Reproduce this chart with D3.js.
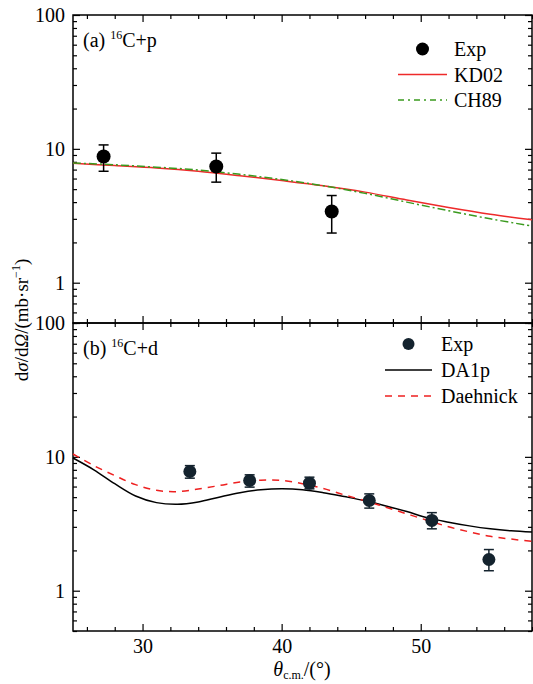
<!DOCTYPE html>
<html>
<head>
<meta charset="utf-8">
<script src="https://cdn.jsdelivr.net/npm/d3@7"></script>
<style>
  body { margin: 0; background: #fff; }
</style>
</head>
<body>
<svg id="chart" width="533" height="684"></svg>
<script>
// ---- data ----
const expPTheta = [27.2, 35.3, 43.6]
const expPVal = [8.76, 7.38, 3.40]
const expPLow = [6.8, 5.64, 2.35]
const expPHigh = [10.7, 9.29, 4.48]

const curvePTheta = [25, 28, 31, 34, 37, 40, 43, 46, 49, 52, 55, 58]
const kd02 = [7.8, 7.5, 7.2, 6.8, 6.3, 5.8, 5.3, 4.75, 4.15, 3.65, 3.25, 2.95]
const ch89 = [7.85, 7.6, 7.3, 6.95, 6.45, 5.9, 5.3, 4.65, 4.0, 3.45, 3.0, 2.65]

const expDTheta = [33.4, 37.7, 42.0, 46.3, 50.8, 54.9]
const expDVal = [7.77, 6.66, 6.36, 4.72, 3.35, 1.71]
const expDLow = [6.93, 5.94, 5.77, 4.14, 2.90, 1.41]
const expDHigh = [8.6, 7.34, 7.05, 5.29, 3.83, 2.03]

const curveDTheta = [25, 26.5, 28, 29.5, 31, 32.5, 34, 35.5, 37, 38.5, 40, 41.5, 43, 44.5, 46, 47.5, 49, 50.5, 52, 53.5, 55, 56.5, 58]
const da1p = [9.8, 8.0, 6.3, 5.1, 4.55, 4.42, 4.6, 5.0, 5.4, 5.67, 5.77, 5.68, 5.4, 5.05, 4.7, 4.3, 3.9, 3.5, 3.25, 3.05, 2.9, 2.8, 2.74]
const daehnick = [10.5, 8.6, 7.25, 6.2, 5.62, 5.5, 5.75, 6.1, 6.5, 6.7, 6.66, 6.3, 5.8, 5.2, 4.7, 4.2, 3.75, 3.35, 3.0, 2.75, 2.55, 2.43, 2.34]

const xTicks = [30, 40, 50]
const xMinor = d3.range(26, 59, 2).filter(d => d % 10 !== 0)
const yTicks = [1, 10, 100]
const yMinor = [0.5, 0.6, 0.7, 0.8, 0.9, 2, 3, 4, 5, 6, 7, 8, 9, 20, 30, 40, 50, 60, 70, 80, 90]

const FONT = 'Liberation Serif'

// ---- layout ----
const svg = d3.select('#chart')
const left = 73
const right = 532
const x = d3.scaleLinear().domain([25, 58]).range([left, right])

const panels = [
  { id: 'p', top: 15, bottom: 323, label: '(a) ', target: '+p' },
  { id: 'd', top: 323, bottom: 631, label: '(b) ', target: '+d' }
]
panels.forEach(p => {
  p.y = d3.scaleLog().domain([0.5, 100]).range([p.bottom, p.top])
})

function drawFrame (p, showX) {
  const g = svg.append('g').attr('class', 'frame-' + p.id)
  const h = p.bottom - p.top
  const w = right - left

  const mk = (axis, tx, ty, vals, len, labels) => {
    const a = g.append('g')
      .attr('transform', `translate(${tx},${ty})`)
      .call(axis.tickValues(vals).tickSizeInner(len).tickSizeOuter(0)
        .tickFormat(labels ? d3.format('d') : ''))
    a.attr('font-size', 20).attr('font-family', null)
    a.select('.domain').remove()
    a.selectAll('line').attr('stroke', '#000').attr('stroke-width', 1.2)
    a.selectAll('text').attr('fill', '#000')
    return a
  }
  // left axis with labels
  mk(d3.axisLeft(p.y), left, 0, yTicks, -7, true)
    .selectAll('text').attr('x', -8)
  mk(d3.axisLeft(p.y), left, 0, yMinor, -4, false)
  // right axis
  mk(d3.axisRight(p.y), right, 0, yTicks, -7, false)
  mk(d3.axisRight(p.y), right, 0, yMinor, -4, false)
  // bottom / top
  const bx = mk(d3.axisBottom(x), 0, p.bottom, xTicks, -7, showX)
  if (showX) bx.selectAll('text').attr('y', 8)
  mk(d3.axisBottom(x), 0, p.bottom, xMinor, -4, false)
  mk(d3.axisTop(x), 0, p.top, xTicks, -7, false)
  mk(d3.axisTop(x), 0, p.top, xMinor, -4, false)

  g.append('rect')
    .attr('x', left).attr('y', p.top)
    .attr('width', w).attr('height', h)
    .attr('fill', 'none').attr('stroke', '#000').attr('stroke-width', 1.5)

  const t = g.append('text').attr('x', 83).attr('y', p.top + 32).attr('font-size', 20)
  t.append('tspan').text(p.label)
  t.append('tspan').attr('font-size', 12).attr('dy', -8).text('16')
  t.append('tspan').attr('dy', 8).text('C' + p.target)
}

function drawLine (p, xs, ys, color, dash) {
  const line = d3.line()
    .x(d => x(d[0]))
    .y(d => p.y(d[1]))
    .curve(d3.curveCatmullRom)
  svg.append('path')
    .datum(xs.map((t, i) => [t, ys[i]]))
    .attr('d', line)
    .attr('fill', 'none')
    .attr('stroke', color)
    .attr('stroke-width', 1.5)
    .attr('stroke-dasharray', dash)
}

function drawPoints (p, xs, vals, lows, highs, color, r) {
  const g = svg.append('g')
  xs.forEach((t, i) => {
    const cx = x(t)
    g.append('line').attr('x1', cx).attr('x2', cx)
      .attr('y1', p.y(lows[i])).attr('y2', p.y(highs[i]))
      .attr('stroke', color).attr('stroke-width', 1.5)
    ;[lows[i], highs[i]].forEach(v => {
      g.append('line').attr('x1', cx - 5).attr('x2', cx + 5)
        .attr('y1', p.y(v)).attr('y2', p.y(v))
        .attr('stroke', color).attr('stroke-width', 1.5)
    })
    g.append('circle').attr('cx', cx).attr('cy', p.y(vals[i]))
      .attr('r', r).attr('fill', color)
  })
}

function drawLegend (items, lx0, lx1, tx, y0, step) {
  const g = svg.append('g').attr('class', 'legend')
  items.forEach((it, i) => {
    const cy = y0 + i * step
    if (it.type === 'dot') {
      g.append('circle').attr('cx', (lx0 + lx1) / 2).attr('cy', cy)
        .attr('r', it.r).attr('fill', it.color)
    } else {
      g.append('line').attr('x1', lx0).attr('x2', lx1)
        .attr('y1', cy).attr('y2', cy)
        .attr('stroke', it.color).attr('stroke-width', 1.5)
        .attr('stroke-dasharray', it.dash)
    }
    g.append('text').attr('x', tx).attr('y', cy + 7)
      .attr('font-size', 20).text(it.name)
  })
}

const pp = panels[0]
const pd = panels[1]

drawFrame(pp, false)
drawFrame(pd, true)

drawLine(pp, curvePTheta, kd02, '#ee2a2a', null)
drawLine(pp, curvePTheta, ch89, '#3a9a1e', '8,3,2,3')
drawPoints(pp, expPTheta, expPVal, expPLow, expPHigh, '#000', 7)

drawLine(pd, curveDTheta, da1p, '#000', null)
drawLine(pd, curveDTheta, daehnick, '#ee2020', '7,6')
drawPoints(pd, expDTheta, expDVal, expDLow, expDHigh, '#14232e', 6.5)

drawLegend([
  { type: 'dot', name: 'Exp', color: '#000', r: 6.5 },
  { type: 'line', name: 'KD02', color: '#ee2a2a' },
  { type: 'line', name: 'CH89', color: '#3a9a1e', dash: '6,4,2,4' }
], 398, 447, 454, 49, 25.5)

drawLegend([
  { type: 'dot', name: 'Exp', color: '#14232e', r: 6 },
  { type: 'line', name: 'DA1p', color: '#000' },
  { type: 'line', name: 'Daehnick', color: '#ee2020', dash: '7,6' }
], 385, 432, 441, 344, 26)

// axis titles
const yl = svg.append('text')
  .attr('transform', 'translate(28,320) rotate(-90)')
  .attr('text-anchor', 'middle')
  .attr('font-size', 19)
yl.append('tspan').text('d')
yl.append('tspan').attr('font-style', 'italic').text('σ')
yl.append('tspan').text('/d')
yl.append('tspan').attr('font-style', 'italic').text('Ω')
yl.append('tspan').text('/(mb·sr')
yl.append('tspan').attr('font-size', 12).attr('dy', -8).text('−1')
yl.append('tspan').attr('dy', 8).text(')')

const xl = svg.append('text')
  .attr('x', 302).attr('y', 676)
  .attr('text-anchor', 'middle')
  .attr('font-size', 20)
xl.append('tspan').attr('font-style', 'italic').text('θ')
xl.append('tspan').attr('font-size', 12).attr('dy', 3).text('c.m.')
xl.append('tspan').attr('dy', -3).text('/(°)')

// serif font on every text
svg.selectAll('text').style('font-family', FONT)
</script>
</body>
</html>
